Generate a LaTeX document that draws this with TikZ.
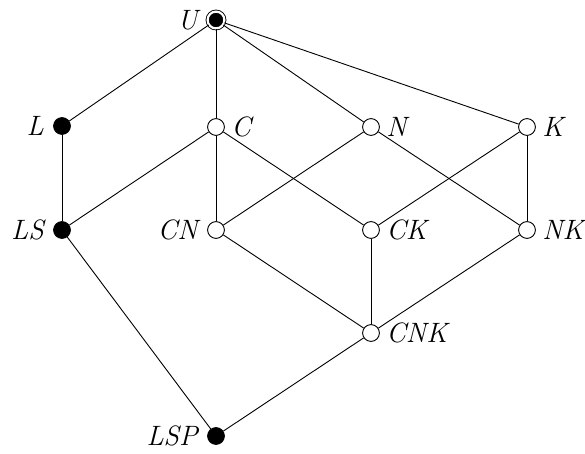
\documentclass[tikz,border=0pt]{standalone}
\usetikzlibrary{positioning}

\tikzset{
  opennode/.style={circle,draw,fill=white,inner sep=0pt,minimum size=8.4pt},
  fullnode/.style={circle,draw,fill=black,inner sep=0pt,minimum size=8.4pt},
  topnode/.style={circle,draw,fill=black,inner sep=0pt,minimum size=8.4pt,
    double,double distance=1.1pt},
  lbl/.style={font=\fontsize{14}{16}\selectfont\itshape,inner sep=3pt}
}

\begin{document}
\begin{tikzpicture}[x=0.5pt,y=-0.5pt,line width=0.45pt]
  \useasboundingbox (0,0) rectangle (585,454);
  % nodes
  \node[topnode,label={[lbl,label distance=1.5pt]left:U}] (U) at (216,20) {};
  \node[fullnode,label={[lbl,label distance=1.5pt]left:L}] (L) at (62,126) {};
  \node[opennode,label={[lbl]right:C}] (C) at (216,127) {};
  \node[opennode,label={[lbl]right:N}] (N) at (371,127) {};
  \node[opennode,label={[lbl]right:K}] (K) at (527,127) {};
  \node[fullnode,label={[lbl,label distance=1.5pt]left:LS}] (LS) at (62,230) {};
  \node[opennode,label={[lbl,label distance=1.5pt]left:CN}] (CN) at (216,230) {};
  \node[opennode,label={[lbl]right:CK}] (CK) at (371,230) {};
  \node[opennode,label={[lbl]right:NK}] (NK) at (527,230) {};
  \node[opennode,label={[lbl]right:CNK}] (CNK) at (371,333) {};
  \node[fullnode,label={[lbl,label distance=1.5pt]left:LSP}] (LSP) at (216,436) {};
  % edges
  \foreach \a/\b in {U/L,U/C,U/N,U/K,L/LS,C/LS,C/CN,C/CK,N/CN,N/NK,K/CK,K/NK,
                     CN/CNK,CK/CNK,NK/CNK,LS/LSP,CNK/LSP}
    \draw (\a) -- (\b);
\end{tikzpicture}
\end{document}
